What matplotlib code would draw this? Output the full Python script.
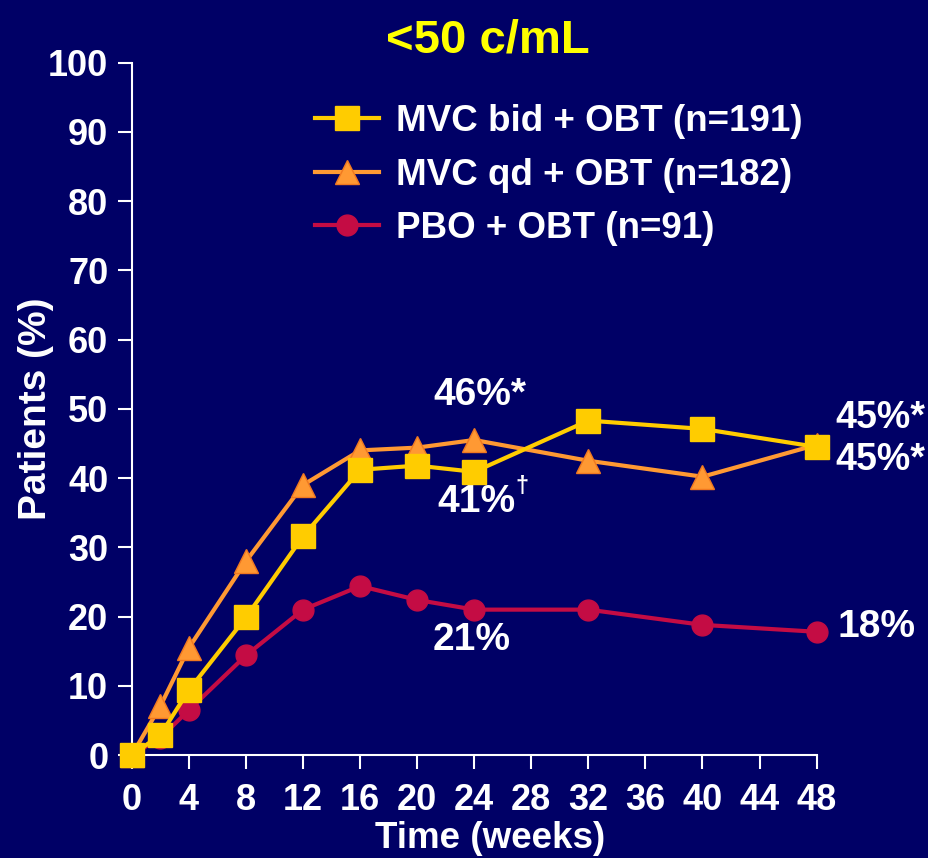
import matplotlib.pyplot as plt

# ---------------------------------------------------------------------------
# Data
# ---------------------------------------------------------------------------
WEEKS = [0, 2, 4, 8, 12, 16, 20, 24, 32, 40, 48]
BID = [0, 2.9, 9.4, 19.9, 31.6, 41.2, 41.8, 40.9, 48.3, 47.1, 44.5]
QD = [0, 7.1, 15.5, 28.0, 39.0, 44.0, 44.4, 45.5, 42.5, 40.2, 44.8]
PBO = [0, 2.5, 6.5, 14.4, 21.0, 24.4, 22.4, 21.0, 21.0, 18.8, 17.8]
LABELS = ["MVC bid + OBT (n=191)", "MVC qd + OBT (n=182)", "PBO + OBT (n=91)"]
X_TICKS = list(range(0, 49, 4))
Y_TICKS = list(range(0, 101, 10))

# ---------------------------------------------------------------------------
# Style
# ---------------------------------------------------------------------------
BG = "#000066"
WHITE = "white"
C_BID = "#FFCC00"
C_QD = "#FF9933"
C_QD_EDGE = "#F07820"
C_PBO = "#C40C44"

plt.rcParams["font.family"] = ["Liberation Sans", "DejaVu Sans"]
plt.rcParams["font.weight"] = "bold"

fig = plt.figure(figsize=(9.29, 8.58), dpi=100)
fig.patch.set_facecolor(BG)
ax = fig.add_axes([0.142, 0.12, 0.737, 0.807])
ax.set_facecolor(BG)

ax.plot(WEEKS, PBO, color=C_PBO, lw=3, marker="o", ms=15,
        label=LABELS[2], clip_on=False, zorder=3)
ax.plot(WEEKS, QD, color=C_QD, lw=3, marker="^", ms=17, mfc=C_QD,
        mec=C_QD_EDGE, label=LABELS[1], clip_on=False, zorder=4)
ax.plot(WEEKS, BID, color=C_BID, lw=3, marker="s", ms=17.5,
        label=LABELS[0], clip_on=False, zorder=5)

ax.set_xlim(0, 48)
ax.set_ylim(0, 100)
ax.set_xticks(X_TICKS)
ax.set_yticks(Y_TICKS)
for s in ("top", "right"):
    ax.spines[s].set_visible(False)
for s in ("left", "bottom"):
    ax.spines[s].set_color(WHITE)
    ax.spines[s].set_linewidth(1.5)
ax.tick_params(colors=WHITE, labelsize=26, length=10, width=1.5, pad=7)
ax.tick_params(axis="x", pad=10)
for lab in ax.get_xticklabels() + ax.get_yticklabels():
    lab.set_fontweight("bold")

ax.set_xlabel("Time (weeks)", color=WHITE, fontsize=26.5, fontweight="bold")
ax.xaxis.set_label_coords(0.523, -0.095)
ax.set_ylabel("Patients (%)", color=WHITE, fontsize=28, fontweight="bold", labelpad=-4)

fig.text(0.525, 0.953, "<50 c/mL", color="#FFFF00", fontsize=34,
         fontweight="bold", ha="center", va="center")

# legend in slide order
handles, labels = ax.get_legend_handles_labels()
order = [2, 1, 0]
leg = ax.legend([handles[i] for i in order], [labels[i] for i in order],
                loc="upper left", bbox_to_anchor=(0.267, 0.94), frameon=False,
                fontsize=26.5, handlelength=1.75, labelspacing=0.5,
                handletextpad=0.45, borderpad=0, borderaxespad=0,
                labelcolor=WHITE)
for t in leg.get_texts():
    t.set_fontweight("bold")

# value annotations
ann = dict(color=WHITE, fontsize=28, fontweight="bold", va="center")
ax.text(24.4, 52.0, "46%*", ha="center", **ann)
ax.text(21.4, 36.6, "41%", ha="left", **ann)
ax.text(26.9, 38.8, "\u2020", ha="left", color=WHITE, fontsize=17,
        fontweight="bold", va="center")
ax.text(23.8, 16.6, "21%", ha="center", **ann)
ax.text(49.3, 48.7, "45%*", ha="left", color=WHITE, fontsize=27,
        fontweight="bold", va="center")
ax.text(49.3, 42.6, "45%*", ha="left", color=WHITE, fontsize=27,
        fontweight="bold", va="center")
ax.text(49.5, 18.5, "18%", ha="left", **ann)

fig.savefig("out.png", dpi=100, facecolor=BG)
